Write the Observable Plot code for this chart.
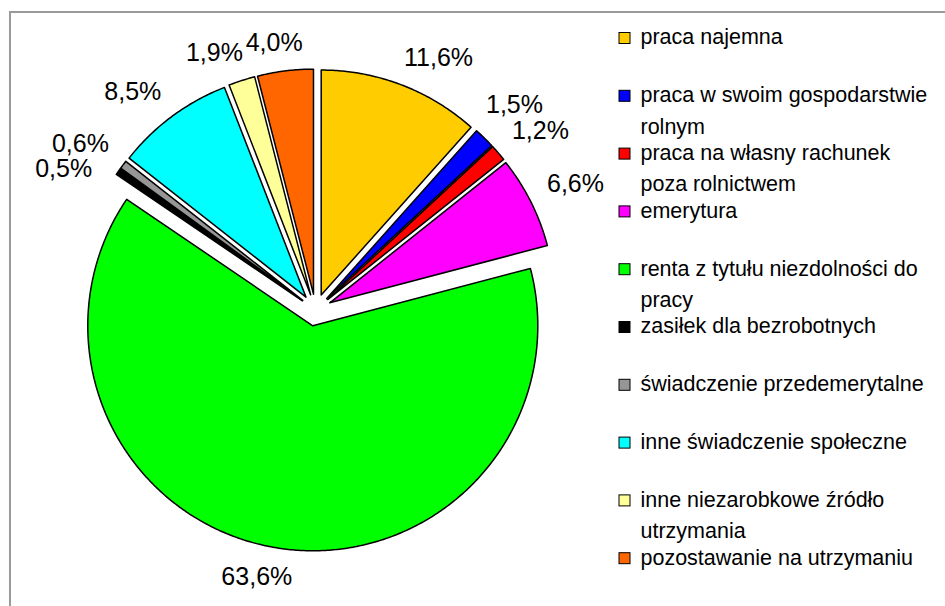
<!DOCTYPE html>
<html>
<head>
<meta charset="utf-8">
<script src="https://cdn.jsdelivr.net/npm/d3@7"></script>
<script src="https://cdn.jsdelivr.net/npm/@observablehq/plot@0.6"></script>
<style>
html, body { margin: 0; padding: 0; background: #fff; }
#wrap { position: relative; width: 945px; height: 606px; overflow: hidden; background: #fff; }
#chart { position: absolute; left: 0; top: 0; }
#frame { position: absolute; left: 9px; top: 11px; width: 1000px; height: 1000px;
  border-left: 2px solid #9a9a9a; border-top: 2px solid #9a9a9a; pointer-events: none; }
</style>
</head>
<body>
<div id="wrap"><div id="chart"></div><div id="frame"></div></div>
<script>
// ---- data ----
const categories = [
  "praca najemna",
  "praca w swoim gospodarstwie\nrolnym",
  "praca na własny rachunek\npoza rolnictwem",
  "emerytura",
  "renta z tytułu niezdolności do\npracy",
  "zasiłek dla bezrobotnych",
  "świadczenie przedemerytalne",
  "inne świadczenie społeczne",
  "inne niezarobkowe źródło\nutrzymania",
  "pozostawanie na utrzymaniu"
];
const values = [11.6, 1.5, 1.2, 6.6, 63.6, 0.5, 0.6, 8.5, 1.9, 4.0];
const colors = ["#FFCC00", "#0000FF", "#FF0000", "#FF00FF", "#00FF00",
                "#000000", "#969696", "#00FFFF", "#FFFF99", "#FF6600"];

// ---- layout ----
const W = 945, H = 606;
const fontFamily = "'Liberation Sans', Arial, Helvetica, sans-serif";
const cx = 315, cy = 309.5, R = 225, explode = 16, labelR = 243;
const pctSize = 25, pctH = 22;
const legendX = 640, legendTop = 38, legendStep = 57.8, legendLine = 31.5, legendSize = 21.5, sq = 11;

const total = d3.sum(values);
let acc = 0;
const slices = values.map((v, i) => {
  const a0 = acc / total * 2 * Math.PI; acc += v;
  const a1 = acc / total * 2 * Math.PI;
  const mid = (a0 + a1) / 2;
  return {name: categories[i], value: v, a0, a1, mid,
          ox: cx + Math.sin(mid) * explode, oy: cy - Math.cos(mid) * explode};
});

const slicePts = slices.flatMap(s => {
  const n = Math.max(2, Math.ceil((s.a1 - s.a0) / (Math.PI / 360)));
  const pts = [{name: s.name, x: s.ox, y: s.oy}];
  for (let k = 0; k <= n; k++) {
    const a = s.a0 + (s.a1 - s.a0) * k / n;
    pts.push({name: s.name, x: s.ox + R * Math.sin(a), y: s.oy - R * Math.cos(a)});
  }
  pts.push({name: s.name, x: s.ox, y: s.oy});
  return pts;
});

// percentage labels, placed outside each slice, nudged apart when overlapping
const ctx = document.createElement("canvas").getContext("2d");
ctx.font = `${pctSize}px ${fontFamily}`;
const pctText = v => v.toFixed(1).replace(".", ",") + "%";
const clamp = t => Math.max(-1, Math.min(1, t));
function place(s, theta, w) {
  const dx = Math.sin(theta), dy = -Math.cos(theta);
  const ax = s.ox + dx * labelR, ay = s.oy + dy * labelR;
  return {x: ax + clamp(dx * 2.5) * w / 2, y: ay + clamp(dy * 2.5) * pctH / 2};
}
const labels = slices.map(s => {
  const text = pctText(s.value);
  const w = ctx.measureText(text).width;
  return {text, w, theta: s.mid, s, ...place(s, s.mid, w)};
});
const overlap = (a, b) => Math.abs(a.x - b.x) < (a.w + b.w) / 2 && Math.abs(a.y - b.y) < 25;
for (let i = 0; i < labels.length - 1; i++) {
  const a = labels[i], b = labels[i + 1];
  let guard = 0;
  while (overlap(a, b) && guard++ < 80) {
    a.theta -= Math.PI / 360;
    Object.assign(a, place(a.s, a.theta, a.w));
  }
}

// legend
const legendRows = categories.map((name, i) => ({name, y: legendTop + i * legendStep}));
const legendLines = legendRows.flatMap(r =>
  r.name.split("\n").map((line, j) => ({line, y: r.y - 1 + j * legendLine})));

const chart = Plot.plot({
  width: W, height: H, margin: 0,
  x: {domain: [0, W], range: [0, W], axis: null},
  y: {domain: [0, H], range: [0, H], axis: null},
  color: {domain: categories, range: colors},
  style: {fontFamily, background: "transparent", overflow: "visible"},
  marks: [
    Plot.line(slicePts, {x: "x", y: "y", z: "name", fill: "name",
      stroke: "#000", strokeWidth: 1.5, strokeLinejoin: "round"}),
    Plot.text(labels, {x: "x", y: d => d.y + 1, text: "text", fontSize: pctSize, fill: "#000"}),
    Plot.rect(legendRows, {x1: () => legendX - 21, x2: () => legendX - 21 + sq,
      y1: d => d.y - sq / 2, y2: d => d.y + sq / 2, fill: "name", stroke: "#000", strokeWidth: 1}),
    Plot.text(legendLines, {x: () => legendX, y: "y", text: "line", textAnchor: "start",
      fontSize: legendSize, fill: "#000"})
  ]
});
document.getElementById("chart").appendChild(chart);
</script>
</body>
</html>
